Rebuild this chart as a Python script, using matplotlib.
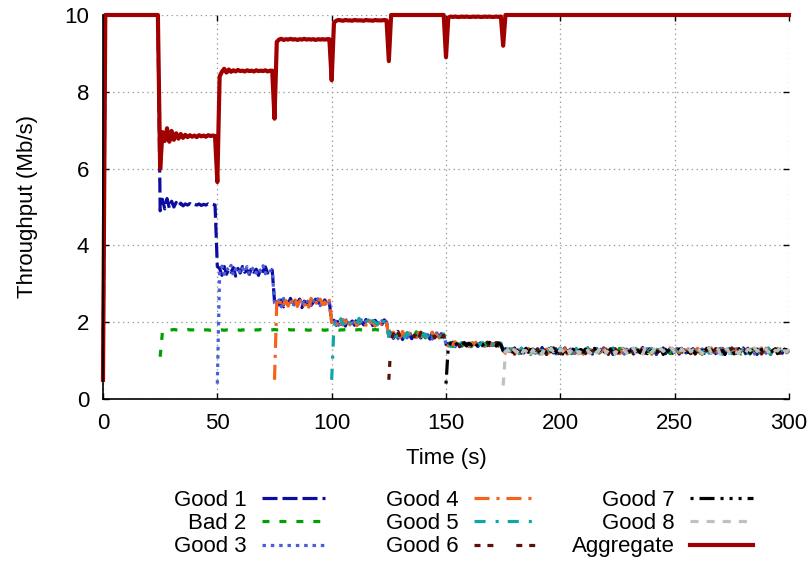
import numpy as np
import matplotlib
matplotlib.use("Agg")
import matplotlib.pyplot as plt

plt.rcParams['font.family'] = ['Liberation Sans', 'DejaVu Sans']
plt.rcParams['font.size'] = 16
plt.rcParams['lines.scale_dashes'] = False

# one sample per second, each flow starts at its own time
labels = ['Good 1', 'Bad 2', 'Good 3', 'Good 4', 'Good 5', 'Good 6', 'Good 7', 'Good 8', 'Aggregate']
start_times = [0, 25, 50, 75, 100, 125, 150, 175, 0]

good1 = """
0.5
10 10 10 10 10 10 10 10 10 10 10 10 10 10 10 10 10 10 10 10 10 10 10 10
4.90
5.20 4.95 5.22 4.97 5.15 5.00 5.12 5.02 5.10 5.03 5.08 5.05 5.09 5.04 5.07 5.05 5.08 5.04 5.07 5.05 5.08 5.05 5.07 5.05
3.45
3.40 3.22 3.45 3.25 3.38 3.30 3.42 3.20 3.40 3.28 3.45 3.30 3.36 3.25 3.42 3.30 3.38 3.22 3.40 3.32 3.44 3.28 3.40 3.35
2.55
2.60 2.45 2.58 2.40 2.55 2.48 2.62 2.42 2.56 2.50 2.60 2.38 2.55 2.47 2.58 2.44 2.52 2.60 2.40 2.55 2.48 2.58 2.45 2.52
2.00
2.05 1.92 2.08 1.95 2.02 1.90 2.06 1.97 2.03 1.92 2.08 1.96 2.01 1.93 2.07 1.98 2.02 1.91 2.05 1.97 2.03 1.94 2.06 1.99
1.63
1.70 1.58 1.72 1.60 1.67 1.55 1.71 1.62 1.68 1.57 1.73 1.61 1.66 1.59 1.70 1.63 1.67 1.56 1.72 1.60 1.68 1.62 1.70 1.64
1.42
1.45 1.38 1.48 1.40 1.44 1.36 1.47 1.41 1.45 1.39 1.48 1.42 1.44 1.37 1.46 1.41 1.45 1.39 1.47 1.40 1.44 1.38 1.46 1.42
1.26
1.31 1.18 1.27 1.22 1.33 1.17 1.26 1.29 1.20 1.32 1.16 1.25 1.30 1.21 1.28 1.19 1.34 1.23 1.17 1.29 1.26 1.20 1.31 1.18 1.27
1.24 1.33 1.19 1.28 1.22 1.16 1.30 1.25 1.21 1.32 1.18 1.27 1.29 1.17 1.24 1.31 1.20 1.26 1.33 1.19 1.23 1.30 1.16 1.28 1.25
1.21 1.32 1.18 1.27 1.24 1.30 1.17 1.29 1.22 1.26 1.34 1.19 1.25 1.31 1.20 1.28 1.16 1.27 1.23 1.33 1.18 1.26 1.30 1.21 1.24
1.29 1.17 1.32 1.25 1.20 1.28 1.23 1.31 1.16 1.27 1.22 1.30 1.19 1.26 1.33 1.21 1.25 1.18 1.29 1.24 1.32 1.17 1.28 1.22 1.26
1.30 1.19 1.27 1.23 1.33 1.18 1.25 1.29 1.21 1.31 1.16 1.26 1.28 1.20 1.32 1.24 1.17 1.30 1.22 1.27 1.25 1.19 1.29 1.23 1.26
"""

bad2 = """
1.10 1.75
1.80 1.80 1.79 1.80 1.81 1.80 1.80 1.79 1.80 1.80 1.81 1.80 1.80 1.80 1.79 1.80 1.81 1.80 1.80 1.80 1.79 1.80 1.80 1.81 1.80
1.80 1.79 1.80 1.80 1.81 1.80 1.80 1.80 1.79 1.80 1.80 1.81 1.80 1.80 1.79 1.80 1.80 1.81 1.80 1.80 1.80 1.79 1.80 1.81 1.80
1.80 1.80 1.79 1.80 1.81 1.80 1.80 1.80 1.79 1.80 1.81 1.80 1.80 1.79 1.80 1.80 1.81 1.80 1.80 1.80 1.79 1.80 1.80 1.81 1.80
1.80 1.79 1.80 1.80 1.81 1.80 1.80 1.79 1.80 1.80 1.81 1.80 1.80 1.80 1.79 1.80 1.80 1.81 1.80 1.80 1.79 1.80 1.80
1.80
1.62 1.71 1.58 1.68 1.74 1.60 1.66 1.72 1.57 1.69 1.63 1.75 1.61 1.67 1.70 1.59 1.73 1.64 1.68 1.60 1.71 1.65 1.62 1.69
1.42
1.40 1.47 1.37 1.45 1.42 1.49 1.38 1.44 1.41 1.47 1.36 1.45 1.43 1.39 1.48 1.41 1.44 1.37 1.46 1.42 1.40 1.47 1.38 1.44
1.27
1.22 1.29 1.17 1.31 1.25 1.20 1.33 1.19 1.27 1.24 1.30 1.16 1.28 1.23 1.32 1.18 1.26 1.29 1.21 1.25 1.34 1.17 1.27 1.22 1.30
1.19 1.26 1.31 1.23 1.18 1.28 1.25 1.32 1.20 1.27 1.16 1.30 1.24 1.21 1.33 1.19 1.28 1.25 1.17 1.29 1.22 1.31 1.26 1.20 1.27
1.32 1.18 1.25 1.29 1.21 1.24 1.33 1.17 1.28 1.23 1.30 1.19 1.26 1.22 1.31 1.25 1.16 1.29 1.27 1.20 1.32 1.24 1.18 1.28 1.26
1.21 1.30 1.23 1.17 1.33 1.25 1.19 1.27 1.31 1.22 1.28 1.16 1.26 1.30 1.24 1.20 1.32 1.18 1.27 1.25 1.29 1.21 1.34 1.19 1.24
1.28 1.22 1.31 1.17 1.26 1.30 1.20 1.25 1.33 1.18 1.27 1.23 1.29 1.21 1.32 1.24 1.16 1.28 1.26 1.19 1.31 1.22 1.27 1.25 1.23
"""

good3 = """
0.40
3.28 3.46 3.25 3.42 3.33 3.48 3.22 3.38 3.44 3.27 3.40 3.30 3.45 3.24 3.37 3.43 3.28 3.41 3.32 3.47 3.26 3.39 3.34 3.36
2.50
2.45 2.58 2.40 2.62 2.50 2.44 2.57 2.39 2.55 2.48 2.63 2.42 2.53 2.46 2.60 2.41 2.56 2.49 2.61 2.43 2.54 2.47 2.59 2.50
2.00
1.95 2.08 1.92 2.04 1.98 2.10 1.91 2.03 2.07 1.94 2.01 1.89 2.06 1.97 2.02 1.93 2.09 1.96 2.00 2.05 1.92 2.04 1.95 2.01
1.62
1.73 1.60 1.67 1.57 1.72 1.64 1.69 1.59 1.75 1.62 1.68 1.58 1.71 1.65 1.61 1.74 1.63 1.70 1.56 1.68 1.72 1.61 1.67 1.64
1.43
1.47 1.39 1.44 1.36 1.48 1.42 1.38 1.46 1.41 1.49 1.37 1.43 1.45 1.40 1.47 1.38 1.44 1.42 1.48 1.36 1.45 1.41 1.46 1.40
1.25
1.27 1.20 1.32 1.24 1.18 1.29 1.26 1.16 1.31 1.23 1.28 1.21 1.33 1.19 1.25 1.30 1.22 1.27 1.17 1.32 1.24 1.29 1.20 1.26 1.31
1.18 1.25 1.28 1.22 1.34 1.19 1.27 1.23 1.30 1.17 1.26 1.32 1.21 1.28 1.24 1.16 1.29 1.25 1.31 1.20 1.27 1.22 1.33 1.18 1.26
1.29 1.23 1.17 1.30 1.25 1.21 1.32 1.19 1.27 1.24 1.28 1.16 1.31 1.22 1.26 1.33 1.20 1.25 1.29 1.18 1.27 1.23 1.30 1.21 1.24
1.32 1.17 1.28 1.25 1.22 1.30 1.19 1.26 1.33 1.21 1.24 1.29 1.18 1.27 1.31 1.20 1.25 1.28 1.16 1.32 1.23 1.26 1.30 1.19 1.27
1.24 1.31 1.18 1.29 1.22 1.26 1.33 1.20 1.28 1.17 1.25 1.30 1.23 1.27 1.19 1.32 1.24 1.21 1.29 1.26 1.18 1.31 1.25 1.22 1.28
"""

good4 = """
0.50
2.52 2.40 2.61 2.47 2.56 2.42 2.63 2.45 2.58 2.41 2.54 2.60 2.44 2.57 2.39 2.62 2.48 2.55 2.43 2.60 2.46 2.53 2.41 2.57
2.00
2.08 1.94 2.02 1.90 2.07 1.97 2.11 1.93 2.00 2.05 1.91 2.06 1.96 2.03 1.92 2.08 1.98 2.04 1.90 2.06 1.99 1.95 2.05 1.97
1.64
1.59 1.74 1.63 1.70 1.61 1.76 1.65 1.58 1.72 1.64 1.69 1.60 1.73 1.62 1.68 1.57 1.71 1.66 1.74 1.62 1.67 1.59 1.70 1.65
1.42
1.38 1.45 1.42 1.49 1.37 1.44 1.47 1.40 1.43 1.36 1.46 1.41 1.48 1.39 1.44 1.42 1.37 1.47 1.40 1.45 1.43 1.38 1.46 1.41
1.26
1.19 1.30 1.24 1.28 1.16 1.33 1.21 1.26 1.29 1.18 1.32 1.25 1.22 1.27 1.31 1.17 1.28 1.23 1.30 1.20 1.26 1.34 1.19 1.25 1.29
1.22 1.31 1.17 1.27 1.24 1.32 1.20 1.28 1.25 1.18 1.30 1.23 1.26 1.33 1.21 1.29 1.16 1.27 1.24 1.31 1.19 1.28 1.22 1.25 1.32
1.18 1.26 1.30 1.21 1.27 1.33 1.17 1.24 1.29 1.23 1.31 1.20 1.28 1.25 1.16 1.32 1.22 1.27 1.30 1.19 1.26 1.24 1.33 1.18 1.29
1.25 1.21 1.31 1.17 1.28 1.24 1.30 1.20 1.27 1.32 1.19 1.26 1.23 1.29 1.16 1.33 1.22 1.28 1.25 1.18 1.31 1.24 1.27 1.21 1.30
1.17 1.28 1.23 1.32 1.20 1.26 1.29 1.18 1.31 1.24 1.27 1.22 1.33 1.19 1.25 1.30 1.21 1.28 1.16 1.32 1.26 1.23 1.29 1.20 1.27
"""

good5 = """
0.50
1.90 2.03 1.96 2.09 1.93 2.05 1.99 1.92 2.07 2.01 1.95 2.10 1.94 2.02 1.97 2.06 1.91 2.04 2.00 1.93 2.08 1.96 2.02 1.98
1.63
1.68 1.62 1.75 1.59 1.66 1.71 1.61 1.73 1.64 1.58 1.70 1.67 1.60 1.74 1.63 1.69 1.57 1.72 1.65 1.61 1.73 1.66 1.60 1.68
1.41
1.44 1.37 1.48 1.41 1.45 1.39 1.47 1.36 1.43 1.46 1.40 1.49 1.38 1.44 1.42 1.47 1.39 1.45 1.41 1.48 1.37 1.44 1.40 1.46
1.27
1.24 1.17 1.31 1.26 1.21 1.29 1.18 1.33 1.25 1.22 1.30 1.16 1.27 1.32 1.20 1.28 1.24 1.19 1.31 1.26 1.23 1.29 1.17 1.27 1.33
1.21 1.25 1.30 1.18 1.28 1.23 1.32 1.19 1.26 1.29 1.22 1.34 1.17 1.27 1.24 1.30 1.20 1.28 1.16 1.31 1.25 1.21 1.29 1.26 1.19
1.33 1.23 1.27 1.18 1.30 1.24 1.21 1.32 1.26 1.17 1.28 1.25 1.31 1.20 1.29 1.22 1.27 1.33 1.19 1.24 1.30 1.16 1.28 1.26 1.21
1.31 1.18 1.25 1.29 1.23 1.32 1.20 1.27 1.24 1.17 1.30 1.26 1.22 1.33 1.19 1.28 1.25 1.31 1.21 1.27 1.16 1.29 1.24 1.32 1.18
1.26 1.30 1.22 1.27 1.19 1.31 1.25 1.17 1.29 1.23 1.32 1.20 1.26 1.28 1.21 1.33 1.18 1.25 1.30 1.24 1.27 1.19 1.31 1.22 1.25
"""

good6 = """
0.50
1.55 1.70 1.64 1.76 1.60 1.68 1.73 1.58 1.66 1.72 1.62 1.69 1.57 1.74 1.65 1.61 1.71 1.63 1.75 1.59 1.67 1.70 1.62 1.66
1.43
1.41 1.48 1.38 1.44 1.46 1.37 1.42 1.49 1.40 1.45 1.38 1.43 1.47 1.41 1.36 1.46 1.42 1.48 1.39 1.44 1.41 1.47 1.38 1.43
1.25
1.28 1.21 1.26 1.32 1.18 1.24 1.30 1.20 1.27 1.33 1.17 1.25 1.29 1.22 1.31 1.19 1.26 1.28 1.16 1.32 1.23 1.27 1.21 1.30 1.18
1.26 1.33 1.20 1.24 1.29 1.17 1.31 1.25 1.22 1.28 1.19 1.32 1.26 1.23 1.30 1.18 1.27 1.21 1.33 1.24 1.16 1.29 1.25 1.31 1.20
1.27 1.22 1.30 1.17 1.26 1.32 1.19 1.28 1.24 1.21 1.31 1.25 1.18 1.29 1.33 1.20 1.26 1.23 1.30 1.16 1.27 1.32 1.22 1.25 1.28
1.19 1.31 1.24 1.27 1.21 1.33 1.18 1.26 1.29 1.22 1.30 1.17 1.28 1.25 1.32 1.20 1.24 1.31 1.19 1.26 1.23 1.29 1.16 1.27 1.33
1.21 1.25 1.30 1.18 1.28 1.23 1.32 1.19 1.26 1.29 1.22 1.31 1.17 1.27 1.24 1.30 1.20 1.28 1.25 1.33 1.19 1.26 1.21 1.29 1.24
"""

good7 = """
0.40
1.36 1.45 1.41 1.48 1.39 1.44 1.42 1.47 1.38 1.45 1.40 1.46 1.37 1.43 1.48 1.40 1.45 1.39 1.47 1.42 1.44 1.38 1.46 1.41
1.26
1.20 1.30 1.25 1.17 1.32 1.23 1.28 1.19 1.26 1.31 1.22 1.29 1.16 1.27 1.33 1.21 1.25 1.30 1.18 1.28 1.24 1.32 1.20 1.26 1.29
1.17 1.31 1.23 1.27 1.21 1.33 1.19 1.25 1.29 1.22 1.30 1.16 1.28 1.24 1.32 1.20 1.26 1.31 1.18 1.27 1.23 1.30 1.21 1.29 1.25
1.19 1.32 1.26 1.22 1.28 1.17 1.31 1.24 1.27 1.20 1.33 1.25 1.18 1.30 1.23 1.29 1.21 1.26 1.32 1.16 1.28 1.24 1.31 1.19 1.27
1.22 1.30 1.25 1.18 1.33 1.21 1.27 1.29 1.17 1.31 1.24 1.26 1.20 1.32 1.23 1.28 1.19 1.25 1.30 1.22 1.27 1.16 1.33 1.24 1.29
1.18 1.26 1.31 1.21 1.28 1.24 1.32 1.19 1.27 1.23 1.30 1.17 1.29 1.25 1.20 1.33 1.22 1.26 1.31 1.18 1.28 1.24 1.30 1.21 1.26
"""

good8 = """
0.35
1.23 1.29 1.18 1.32 1.26 1.21 1.30 1.17 1.27 1.24 1.33 1.19 1.28 1.22 1.31 1.25 1.16 1.29 1.26 1.20 1.32 1.23 1.27 1.18 1.30
1.25 1.21 1.33 1.19 1.28 1.24 1.31 1.17 1.26 1.30 1.22 1.27 1.18 1.32 1.25 1.20 1.29 1.23 1.34 1.19 1.27 1.24 1.30 1.16 1.28
1.22 1.31 1.26 1.19 1.29 1.24 1.33 1.20 1.27 1.25 1.17 1.32 1.23 1.28 1.21 1.30 1.26 1.18 1.31 1.24 1.29 1.22 1.27 1.33 1.19
1.26 1.20 1.30 1.25 1.17 1.32 1.23 1.28 1.21 1.31 1.26 1.18 1.29 1.24 1.33 1.20 1.27 1.22 1.30 1.16 1.28 1.25 1.31 1.19 1.26
1.29 1.23 1.18 1.32 1.25 1.21 1.30 1.27 1.17 1.33 1.24 1.28 1.20 1.26 1.31 1.22 1.29 1.19 1.27 1.25 1.32 1.18 1.26 1.23 1.30
"""

aggregate = """
0.5
10 10 10 10 10 10 10 10 10 10 10 10 10 10 10 10 10 10 10 10 10 10 10 10
6.00
6.95 6.72 7.05 6.70 6.98 6.75 6.92 6.78 6.90 6.80 6.88 6.82 6.87 6.83 6.86 6.82 6.87 6.84 6.86 6.83 6.87 6.85 6.86 6.85
5.65
8.40 8.52 8.60 8.50 8.58 8.52 8.56 8.53 8.57 8.54 8.55 8.53 8.56 8.54 8.55 8.53 8.56 8.54 8.55 8.54 8.56 8.53 8.55 8.55
7.30
9.30 9.36 9.38 9.35 9.37 9.36 9.38 9.36 9.37 9.35 9.37 9.36 9.38 9.36 9.37 9.36 9.37 9.35 9.37 9.36 9.37 9.36 9.37 9.37
8.30
9.80 9.85 9.87 9.86 9.85 9.87 9.86 9.86 9.85 9.87 9.86 9.86 9.86 9.85 9.87 9.86 9.86 9.85 9.87 9.86 9.86 9.86 9.87 9.86
8.80
10 10 10 10 10 10 10 10 10 10 10 10 10 10 10 10 10 10 10 10 10 10 10 10
8.90
9.93 9.96 9.95 9.96 9.95 9.95 9.96 9.95 9.96 9.95 9.95 9.96 9.95 9.96 9.95 9.95 9.96 9.95 9.96 9.95 9.95 9.96 9.95 9.96
9.20
10 10 10 10 10 10 10 10 10 10 10 10 10 10 10 10 10 10 10 10 10 10 10 10 10
10 10 10 10 10 10 10 10 10 10 10 10 10 10 10 10 10 10 10 10 10 10 10 10 10
10 10 10 10 10 10 10 10 10 10 10 10 10 10 10 10 10 10 10 10 10 10 10 10 10
10 10 10 10 10 10 10 10 10 10 10 10 10 10 10 10 10 10 10 10 10 10 10 10 10
10 10 10 10 10 10 10 10 10 10 10 10 10 10 10 10 10 10 10 10 10 10 10 10 10
"""

series = [good1, bad2, good3, good4, good5, good6, good7, good8, aggregate]

# gnuplot-like line styles (dash lengths in points)
colors = ['#0c0ca0', '#00a000', '#4a5ed8', '#f5621a', '#12a5a5',
          '#5a1206', '#000000', '#c0c0c0', '#a00000']
dash_styles = [(10.8, 3.6), (5, 7.2), (2.5, 3.5), (10.8, 5, 2.2, 5),
               (8, 7.2, 2.2, 6.5), (4.3, 5, 4.3, 16.5),
               (2.2, 4.3, 10.8, 4.3, 2.2, 4.3, 2.2, 4.3), (5.8, 5.8), None]


def parse(text):
    return np.array(text.split(), dtype=float)


fig = plt.figure(figsize=(8.11, 5.61), dpi=100)
ax = fig.add_axes([103 / 811, 1 - 399 / 561, 686 / 811, 384 / 561])

handles = []
for label, t0, text, color, dash in zip(labels, start_times, series, colors, dash_styles):
    values = parse(text)
    assert len(values) == 301 - t0, (label, len(values))
    t = t0 + np.arange(len(values))
    if dash is None:
        line, = ax.plot(t, values, color=color, lw=3.0, label=label, clip_on=False)
    else:
        line, = ax.plot(t, values, color=color, lw=2.3, dashes=dash, label=label, clip_on=False)
    handles.append(line)

ax.set_xlim(0, 300)
ax.set_ylim(0, 10)
ax.set_xticks(range(0, 301, 50))
ax.set_yticks(range(0, 11, 2))
ax.tick_params(direction='in', length=4.5, width=1.0, top=True, right=True,
               pad=10, labelsize=16)
ax.spines['top'].set_visible(False)
ax.spines['right'].set_visible(False)
ax.spines['left'].set_linewidth(1.2)
ax.spines['bottom'].set_linewidth(1.2)
ax.grid(True, color='#9a9a9a', linestyle=(0, (1, 2.5)), linewidth=0.9)
ax.set_axisbelow(True)

ax.set_xlabel('Time (s)', labelpad=10)
ax.set_ylabel('Throughput (Mb/s)', labelpad=19)

# key: three columns, label on the left of its sample
for lo, hi, x_right in [(0, 3, 325), (3, 6, 537), (6, 9, 753)]:
    fig.legend(handles[lo:hi], labels[lo:hi], loc='upper right',
               bbox_to_anchor=(x_right / 811, 1 - 490 / 561),
               frameon=False, markerfirst=False, handlelength=2.85,
               handletextpad=0.68, labelspacing=0.1, borderpad=0,
               borderaxespad=0, fontsize=16)

fig.savefig('out.png', dpi=100)
